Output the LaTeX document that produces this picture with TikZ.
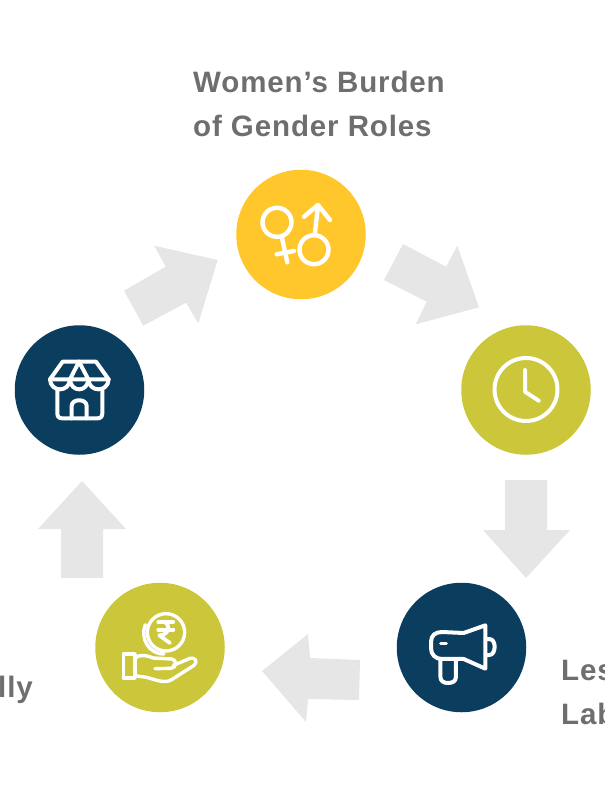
\documentclass[tikz,border=0pt]{standalone}
\usepackage{fontspec}
\setmainfont{Liberation Sans}
\definecolor{cyellow}{HTML}{FFC72C}
\definecolor{colive}{HTML}{CCC63A}
\definecolor{cnavy}{HTML}{0A3D5E}
\definecolor{cgrey}{HTML}{E6E6E6}
\definecolor{ctext}{HTML}{6D6E70}
\tikzset{
  disc/.style={circle,minimum size=129.5pt,inner sep=0pt,fill=#1},
  blockarrow/.style={fill=cgrey,draw=none},
  icon/.style={draw=white,line width=4pt,line cap=round,line join=round},
  label/.style={text=ctext,anchor=base west,inner sep=0pt,font=\fontsize{29.5}{30}\selectfont\bfseries\addfontfeatures{LetterSpace=3}}
}
\begin{document}
\begin{tikzpicture}[x=1pt,y=-1pt]
\useasboundingbox (0,0) rectangle (605,806);
\clip (0,0) rectangle (605,806);
% labels
\node[label] (t1) at (193,92) {Women’s Burden};
\node[label] (t2) at (193,136) {of Gender Roles};
\node[label] (t3) at (561,680) {Les};
\node[label] (t4) at (561,724) {Lab};
\node[label,anchor=base east] (t5) at (33,697) {lly};
% block arrows
\fill[blockarrow] (124,290.7) -- (165.7,266.7) -- (154.3,245.7) -- (217.7,260) -- (198.3,323.3) -- (186,302.7) -- (143.3,325.7) -- cycle;
\fill[blockarrow] (403,244) -- (446,266.7) -- (457.3,245.7) -- (479,307.3) -- (415.7,324.3) -- (426.7,301.7) -- (384,280) -- cycle;
\fill[blockarrow] (505,480) -- (547,480) -- (547,530) -- (570,530) -- (526,578) -- (483,530) -- (505,530) -- cycle;
\fill[blockarrow] (360,660) -- (359,700) -- (308,699) -- (306,722) -- (262,671) -- (308,634) -- (310,658) -- cycle;
\fill[blockarrow] (61,578) -- (61,529) -- (38,529) -- (82,481) -- (126,529) -- (103,529) -- (103,578) -- cycle;
% discs
\node[disc=cyellow] (d1) at (301,234.5) {};
\node[disc=colive] (d2) at (526,390) {};
\node[disc=cnavy] (d3) at (461.5,647.5) {};
\node[disc=colive] (d4) at (160,647.5) {};
\node[disc=cnavy] (d5) at (79.5,390) {};
% gender icon
\begin{scope}[icon,line width=4.4pt]
\draw (277,222.3) circle (14.5);
\draw (281.7,236.7) -- (287.3,262.3);
\draw (276.7,254.3) -- (294,251);
\draw (314,249.7) circle (14.5);
\draw (314.7,235) -- (318,206);
\draw (304,216.7) -- (318,205) -- (330,220);
\end{scope}
% clock icon
\begin{scope}[icon]
\draw (526,389.5) circle (31.5);
\draw (525,370) -- (525,391.7) -- (538.7,400.7);
\end{scope}
% megaphone icon
\begin{scope}[shift={(392,578)},x=0.3333pt,y=-0.3333pt,icon]
\draw (215,165) -- (280,142) -- (280,272) -- (215,243) -- (150,243)
  .. controls (130,243) and (117,230) .. (117,210) -- (117,192)
  .. controls (117,172) and (130,162) .. (150,162) -- cycle;
\draw (145,245) -- (145,295) .. controls (145,310) and (155,315) .. (168,315)
  .. controls (182,315) and (192,310) .. (192,295) -- (192,250);
\draw (282,183) -- (292,183) .. controls (303,183) and (308,195) .. (308,206)
  .. controls (308,218) and (303,231) .. (292,231) -- (282,231);
\draw[line width=3pt] (146,195) -- (163,195);
\end{scope}
% hand and coin icon
\begin{scope}[shift={(90,578)},x=0.3333pt,y=-0.3333pt,icon,line width=3.4pt]
\draw (228,163) circle (56);
\draw (166,140) .. controls (150,180) and (175,228) .. (222,228);
\draw[line width=3.8pt] (205,132) -- (250,132);
\draw[line width=3.8pt] (205,155) -- (250,155);
\draw[line width=3.8pt] (220,132) .. controls (240,132) and (243,172) .. (208,172) -- (240,195);
\draw (100,228) rectangle (135,300);
\draw (135,240) .. controls (150,228) and (170,232) .. (190,240) -- (245,243)
  .. controls (262,245) and (260,270) .. (243,271) -- (195,272);
\draw (250,262) -- (300,241) .. controls (315,236) and (325,252) .. (312,262)
  -- (245,305) .. controls (225,318) and (195,305) .. (170,298) -- (135,293);
\end{scope}
% store icon
\begin{scope}[shift={(10,320)},x=0.3333pt,y=-0.3333pt,icon]
\draw (142,210) -- (142,280) .. controls (142,290) and (147,295) .. (157,295) -- (262,295)
  .. controls (272,295) and (277,290) .. (277,280) -- (277,210);
\draw (185,295) -- (185,258) .. controls (185,235) and (230,235) .. (230,258) -- (230,295);
\draw (120,178) -- (158,125) -- (258,125) -- (296,178) -- cycle;
\draw (207,125) -- (180,178);
\draw (207,125) -- (235,178);
\draw (120,178) .. controls (122,218) and (178,218) .. (180,178)
  .. controls (182,218) and (233,218) .. (235,178)
  .. controls (237,218) and (294,218) .. (296,178);
\end{scope}
\end{tikzpicture}
\end{document}
